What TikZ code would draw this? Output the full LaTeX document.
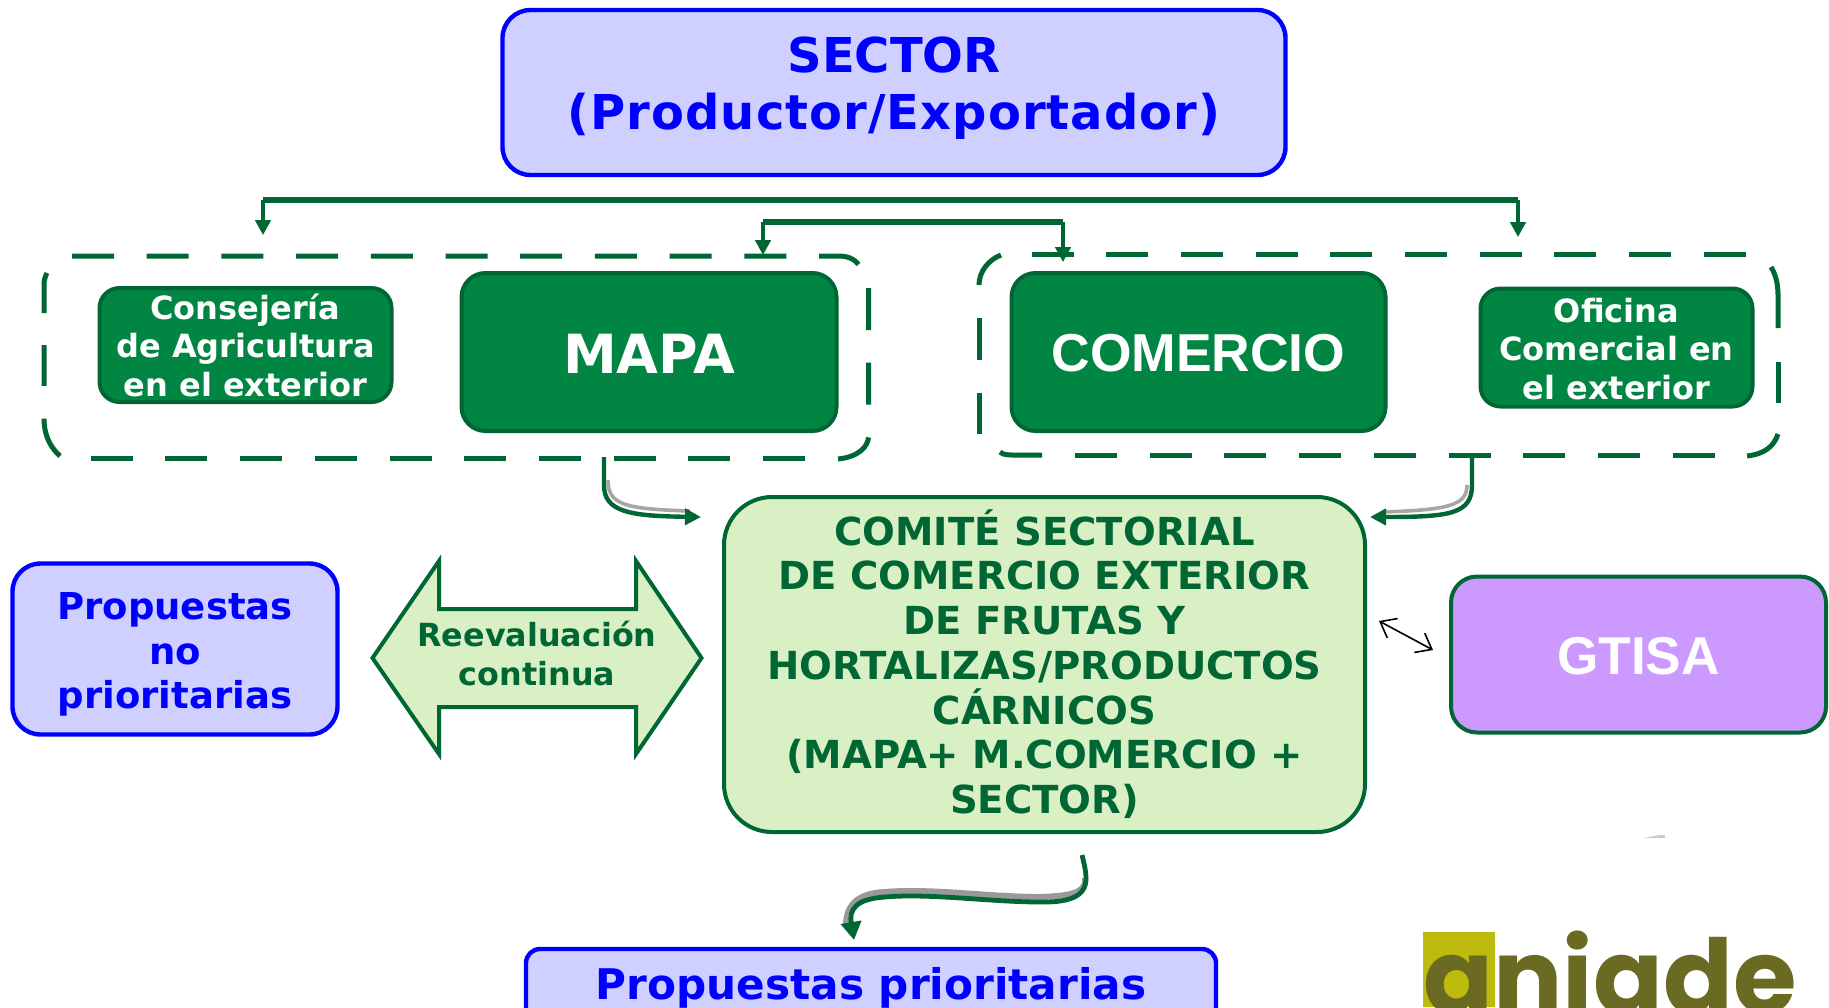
\documentclass[tikz,border=0pt]{standalone}
\usepackage{fontspec}
\setmainfont{DejaVu Sans}
\newfontfamily\arialf{Liberation Sans}
\newfontfamily\logof{Poppins}
\newfontfamily\sectorwide[LetterSpace=2.2]{DejaVu Sans}
\usetikzlibrary{arrows.meta,positioning}
\definecolor{dkgreen}{HTML}{006633}
\definecolor{midgreen}{HTML}{008542}
\definecolor{lgreen}{HTML}{D9EFC4}
\definecolor{lblue}{HTML}{CFD0FF}
\definecolor{lpurple}{HTML}{CC99FF}
\definecolor{logoyel}{HTML}{BDBB0E}
\definecolor{logool}{HTML}{6B6A22}
\newcommand{\fs}[2]{\fontsize{#1}{#2}\selectfont}
\tikzset{
  x=0.5pt,y=-0.5pt,
  box/.style={draw,rounded corners=#1,inner sep=0pt,anchor=center},
  bluebox/.style={box=14pt,draw=blue,fill=lblue,line width=2.2pt},
  greenbox/.style={box=12pt,draw=dkgreen,fill=midgreen,line width=2pt},
  dashrun/.style={draw=dkgreen,line width=2.5pt,dash pattern=on 21pt off 16.35pt},
  dashend/.style={draw=dkgreen,line width=2.5pt},
  busline/.style={draw=dkgreen,line width=2.7pt},
  busdrop/.style={draw=dkgreen,line width=1.7pt,-{Triangle[length=7.5pt,width=7.7pt,fill=dkgreen]}},
  curvearrow/.style={draw=dkgreen,line width=2.2pt,-{Triangle[length=8pt,width=8pt,fill=dkgreen]}},
  shade/.style={draw=gray!70,line width=1.8pt},
  lbl/.style={font=\bfseries,align=center,inner sep=0pt},
}
\begin{document}
\begin{tikzpicture}
\useasboundingbox (0,0) rectangle (1829,1007);
% --- dashed group 1
\draw[dashrun] (72,256) -- (838,256) .. controls (850,256) and (856,260) .. (861,268);
\draw[dashrun] (868.5,288) -- (868.5,437) .. controls (868,447) and (858,457) .. (838,459);
\draw[dashrun] (805,458) -- (90,458);
\draw[dashrun] (60,456) .. controls (50,447) and (44,435) .. (44,418) -- (44,345);
\draw[dashend] (44,313) -- (44,285) .. controls (44,280) and (45,277) .. (47,273);
% --- dashed group 2
\draw[dashrun] (1031.5,254) -- (1746,254);
\draw[dashend] (1001,255) .. controls (988,260) and (979,272) .. (979,285);
\draw[dashrun] (979,318) -- (979,434);
\draw[dashend] (1042,455) -- (1012,455) .. controls (1006,455) and (1002,454) .. (1000,452);
\draw[dashrun] (1075,455) -- (1716,455);
\draw[dashend] (1747,456) .. controls (1765,454) and (1774,446) .. (1778,434);
\draw[dashend] (1771,267) .. controls (1776,275) and (1778,285) .. (1778,295) -- (1778,328);
\draw[dashend] (1778,362) -- (1778,403);
% --- boxes
\node[bluebox,minimum width=391.5pt,minimum height=82.5pt] (sector) at (894,92.5) {};
\node[lbl,text=blue,font=\bfseries\fs{24}{28.6}] (sectort) at (894,88) {SECTOR\\{\sectorwide\bfseries (Productor/Exportador)}};
\node[greenbox,box=10pt,minimum width=146pt,minimum height=57pt] (cons) at (245.5,345) {};
\node[lbl,text=white,font=\bfseries\fs{16}{19.25}] (const) at (245.5,345) {Consejería\\de Agricultura\\en el exterior};
\node[greenbox,minimum width=187.5pt,minimum height=79pt] (mapa) at (649,352) {};
\node[lbl,text=white,font=\bfseries\fs{27}{27}] (mapat) at (649,354) {MAPA};
\node[greenbox,minimum width=187pt,minimum height=79pt] (com) at (1198.5,352) {};
\node[lbl,text=white,font=\arialf\bfseries\fs{26.7}{27}] (comt) at (1198.5,353.5) {COMERCIO};
\node[greenbox,box=10pt,minimum width=136pt,minimum height=59pt] (ofi) at (1616.5,347.5) {};
\node[lbl,text=white,font=\bfseries\fs{16}{19.25}] (ofit) at (1616.5,349) {Oficina\\Comercial en\\el exterior};
\node[draw=dkgreen,fill=lgreen,line width=2pt,rounded corners=24pt,minimum width=320.5pt,minimum height=167.5pt,inner sep=0pt] (comite) at (1044.5,664.5) {};
\node[lbl,text=dkgreen,font=\bfseries\fs{19.3}{22.35}] (comitet) at (1044.5,664) {COMITÉ SECTORIAL\\DE COMERCIO EXTERIOR\\DE FRUTAS Y\\HORTALIZAS/PRODUCTOS\\CÁRNICOS\\(MAPA+ M.COMERCIO +\\SECTOR)};
\node[bluebox,minimum width=162.5pt,minimum height=85.5pt] (nopri) at (175,649) {};
\node[lbl,text=blue,font=\bfseries\fs{18.5}{22.2}] (noprit) at (175,654.5) {Propuestas\\no\\prioritarias};
\node[draw=dkgreen,fill=lpurple,line width=2pt,rounded corners=13pt,minimum width=187.5pt,minimum height=78pt,inner sep=0pt] (gtisa) at (1638.5,654.5) {};
\node[lbl,text=white,font=\arialf\bfseries\fs{26.6}{27}] (gtisat) at (1638.5,656.5) {GTISA};
% --- clipped bottom box and logo
\begin{scope}
\clip (0,0) rectangle (1829,1007);
\node[bluebox,box=7pt,minimum width=345pt,minimum height=60pt] (pri) at (871,1009) {};
\node[lbl,text=blue,font=\bfseries\fs{21.1}{24}] (prit) at (871,988) {Propuestas prioritarias};
\fill[logoyel] (1423,932) rectangle (1495,1007);
\node[lbl,text=logool,font=\logof\bfseries\fs{51.5}{52},anchor=base west] (logo) at (1423,1013) {aniade};
\end{scope}
% --- block double arrow
\filldraw[draw=dkgreen,fill=lgreen,line width=2pt,line join=miter]
 (372.5,658) -- (439,561) -- (439,609) -- (636,609) -- (636,561) -- (701.5,658) -- (636,754) -- (636,707) -- (439,707) -- (439,754) -- cycle;
\node[lbl,text=dkgreen,font=\bfseries\fs{15.9}{19.25}] (reev) at (537,653.5) {Reevaluación\\continua};
% --- top connectors
\coordinate (t1a) at (263,235); \coordinate (t1b) at (263,200); \coordinate (t1c) at (1518,200); \coordinate (t1d) at (1518,237);
\coordinate (t2a) at (763,255); \coordinate (t2b) at (763,222); \coordinate (t2c) at (1063,222); \coordinate (t2d) at (1063,262);
\draw[busline] (t1b) -- (t1c);
\draw[busdrop] (t1b) -- (t1a);
\draw[busdrop] (t1c) -- (t1d);
\draw[busline] (t2b) -- (t2c);
\draw[busdrop] (t2b) -- (t2a);
\draw[busdrop] (t2c) -- (t2d);
% --- curved connectors
\coordinate (c1s) at (604,457); \coordinate (c1e) at (701,517);
\coordinate (c2s) at (1472,458); \coordinate (c2e) at (1370,517);
\coordinate (c3s) at (1082,855); \coordinate (c3e) at (854,940);
\draw[shade] (608,480) .. controls (608,505) and (625,509) .. (690,511);
\draw[curvearrow] (c1s) -- (604,485) .. controls (604,512) and (630,516) .. (c1e);
\draw[shade] (1467,485) .. controls (1467,505) and (1450,510) .. (1382,512);
\draw[curvearrow] (c2s) -- (1472,485) .. controls (1472,514) and (1450,517) .. (c2e);
\draw[draw=gray!80,line width=3pt] (1085,878) .. controls (1087,893) and (1070,896) .. (1040,897) .. controls (990,897) and (930,888) .. (885,892) .. controls (858,893) and (846,905) .. (846,925);
\draw[draw=dkgreen,line width=2.4pt,-{Triangle[length=9pt,width=10pt,fill=dkgreen]}] (c3s) .. controls (1088,880) and (1095,903) .. (1040,902) .. controls (990,902) and (930,893) .. (885,897) .. controls (855,899) and (849,910) .. (c3e);
% --- small black double arrow
\coordinate (g1) at (1379,621); \coordinate (g2) at (1433,650);
\draw[black,line width=0.8pt,{Straight Barb[length=7pt,width=11pt]}-{Straight Barb[length=7pt,width=11pt]}] (g1) -- (g2);
% --- speck
\fill[gray!40] (1643,838) -- (1660,835) -- (1665,835) -- (1665,838) -- cycle;
\end{tikzpicture}
\end{document}
